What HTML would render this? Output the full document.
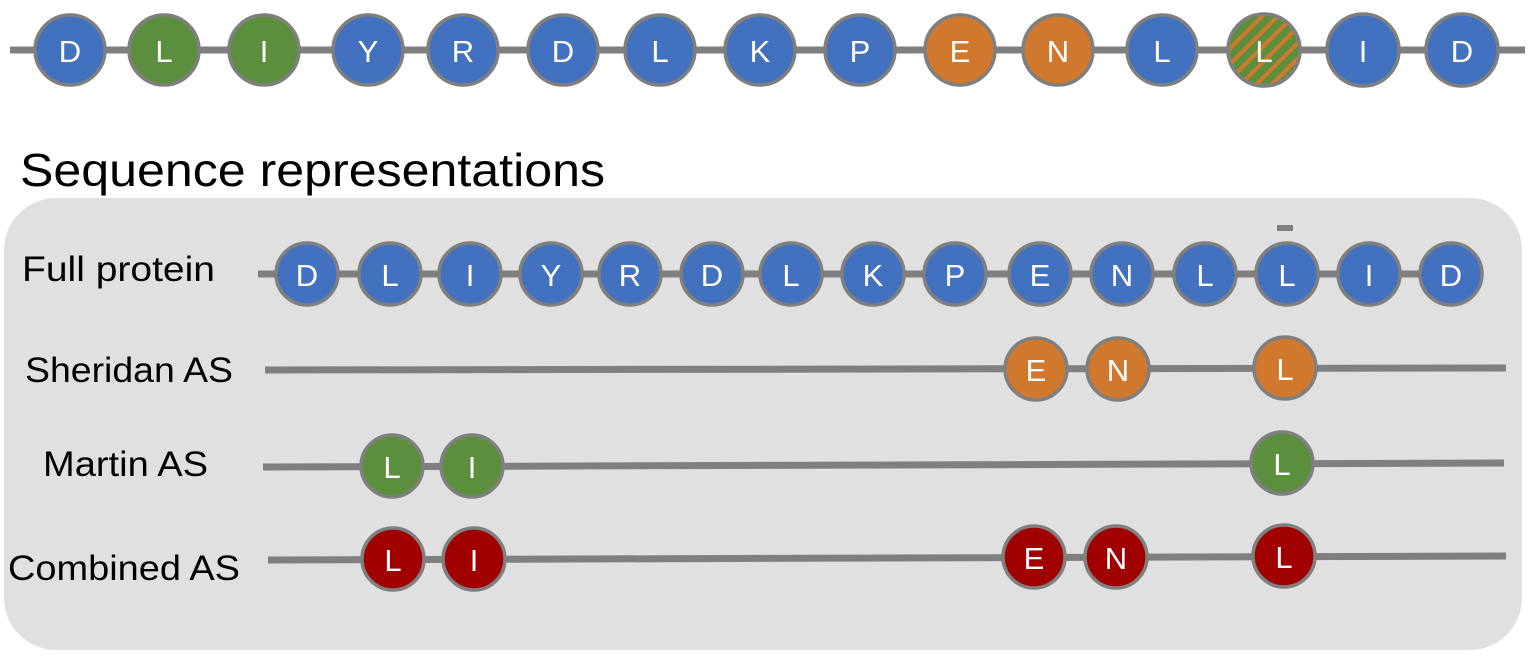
<!DOCTYPE html>
<html><head><meta charset="utf-8"><style>
body{margin:0;background:#fff;width:1530px;height:658px;overflow:hidden}
</style></head><body>
<svg width="1530" height="658" xmlns="http://www.w3.org/2000/svg" font-family="Liberation Sans, sans-serif">
<defs>
<pattern id="st" patternUnits="userSpaceOnUse" width="11" height="11" patternTransform="rotate(45)">
<rect width="11" height="11" fill="#5b8f3d"/><rect width="4" height="11" fill="#d0782e"/>
</pattern>
</defs>
<rect x="4" y="198" width="1518" height="452" rx="52" fill="#e0e0e0"/>
<text x="20" y="186" font-size="46" fill="#000" textLength="585" lengthAdjust="spacingAndGlyphs">Sequence representations</text>
<g font-size="35" fill="#000" lengthAdjust="spacingAndGlyphs">
<text x="22" y="281" textLength="193" lengthAdjust="spacingAndGlyphs">Full protein</text>
<text x="25" y="382" textLength="208" lengthAdjust="spacingAndGlyphs">Sheridan AS</text>
<text x="43" y="476" textLength="165" lengthAdjust="spacingAndGlyphs">Martin AS</text>
<text x="8" y="580" textLength="232" lengthAdjust="spacingAndGlyphs">Combined AS</text>
</g>
<g stroke="#7f7f7f" stroke-width="7">
<line x1="10" y1="50" x2="1525" y2="50"/>
<line x1="258" y1="274" x2="1475" y2="274"/>
<line x1="265" y1="370" x2="1506" y2="368"/>
<line x1="263" y1="467" x2="1504" y2="463"/>
<line x1="268" y1="560" x2="1506" y2="556"/>
</g>
<rect x="1277" y="225" width="16" height="6" fill="#7f7f7f"/>
<g stroke="#7f7f7f" stroke-width="3.5">
<circle cx="70" cy="50" r="35" fill="#4271c0"/>
<circle cx="164" cy="50" r="35" fill="#5b8f3d"/>
<circle cx="264" cy="50" r="35" fill="#5b8f3d"/>
<circle cx="368" cy="50" r="35" fill="#4271c0"/>
<circle cx="463" cy="50" r="35" fill="#4271c0"/>
<circle cx="563" cy="50" r="35" fill="#4271c0"/>
<circle cx="660" cy="50" r="35" fill="#4271c0"/>
<circle cx="760" cy="50" r="35" fill="#4271c0"/>
<circle cx="860" cy="50" r="35" fill="#4271c0"/>
<circle cx="960" cy="50" r="35" fill="#d0782e"/>
<circle cx="1058" cy="50" r="35" fill="#d0782e"/>
<circle cx="1162" cy="50" r="35" fill="#4271c0"/>
<circle cx="1264" cy="50" r="36" fill="url(#st)"/>
<circle cx="1363" cy="50" r="36" fill="#4271c0"/>
<circle cx="1462" cy="50" r="36" fill="#4271c0"/>
<circle cx="307" cy="274" r="31" fill="#4271c0"/>
<circle cx="390" cy="274" r="31" fill="#4271c0"/>
<circle cx="470" cy="274" r="31" fill="#4271c0"/>
<circle cx="551" cy="274" r="31" fill="#4271c0"/>
<circle cx="630" cy="274" r="31" fill="#4271c0"/>
<circle cx="712" cy="274" r="31" fill="#4271c0"/>
<circle cx="791" cy="274" r="31" fill="#4271c0"/>
<circle cx="873" cy="274" r="31" fill="#4271c0"/>
<circle cx="955" cy="274" r="31" fill="#4271c0"/>
<circle cx="1040" cy="274" r="31" fill="#4271c0"/>
<circle cx="1122" cy="274" r="31" fill="#4271c0"/>
<circle cx="1205" cy="274" r="31" fill="#4271c0"/>
<circle cx="1287" cy="274" r="31" fill="#4271c0"/>
<circle cx="1369" cy="274" r="31" fill="#4271c0"/>
<circle cx="1451" cy="274" r="31" fill="#4271c0"/>
<circle cx="1036" cy="369" r="31" fill="#d0782e"/>
<circle cx="1118" cy="369" r="31" fill="#d0782e"/>
<circle cx="1285" cy="368" r="31" fill="#d0782e"/>
<circle cx="392" cy="466" r="31" fill="#5b8f3d"/>
<circle cx="472" cy="466" r="31" fill="#5b8f3d"/>
<circle cx="1282" cy="463" r="31" fill="#5b8f3d"/>
<circle cx="393" cy="559" r="31" fill="#a00000"/>
<circle cx="474" cy="559" r="31" fill="#a00000"/>
<circle cx="1034" cy="557" r="31" fill="#a00000"/>
<circle cx="1116" cy="557" r="31" fill="#a00000"/>
<circle cx="1284" cy="556" r="31" fill="#a00000"/>
</g>
<g fill="#fff" font-size="31" text-anchor="middle">
<text x="70" y="62">D</text><text x="164" y="62">L</text><text x="264" y="62">I</text><text x="368" y="62">Y</text><text x="463" y="62">R</text><text x="563" y="62">D</text><text x="660" y="62">L</text><text x="760" y="62">K</text><text x="860" y="62">P</text><text x="960" y="62">E</text><text x="1058" y="62">N</text><text x="1162" y="62">L</text><text x="1264" y="62">L</text><text x="1363" y="62">I</text><text x="1462" y="62">D</text>
<text x="307" y="286">D</text><text x="390" y="286">L</text><text x="470" y="286">I</text><text x="551" y="286">Y</text><text x="630" y="286">R</text><text x="712" y="286">D</text><text x="791" y="286">L</text><text x="873" y="286">K</text><text x="955" y="286">P</text><text x="1040" y="286">E</text><text x="1122" y="286">N</text><text x="1205" y="286">L</text><text x="1287" y="286">L</text><text x="1369" y="286">I</text><text x="1451" y="286">D</text>
<text x="1036" y="381">E</text><text x="1118" y="381">N</text><text x="1285" y="380">L</text>
<text x="392" y="478">L</text><text x="472" y="478">I</text><text x="1282" y="475">L</text>
<text x="393" y="571">L</text><text x="474" y="571">I</text><text x="1034" y="569">E</text><text x="1116" y="569">N</text><text x="1284" y="568">L</text>
</g>
</svg>
</body></html>
